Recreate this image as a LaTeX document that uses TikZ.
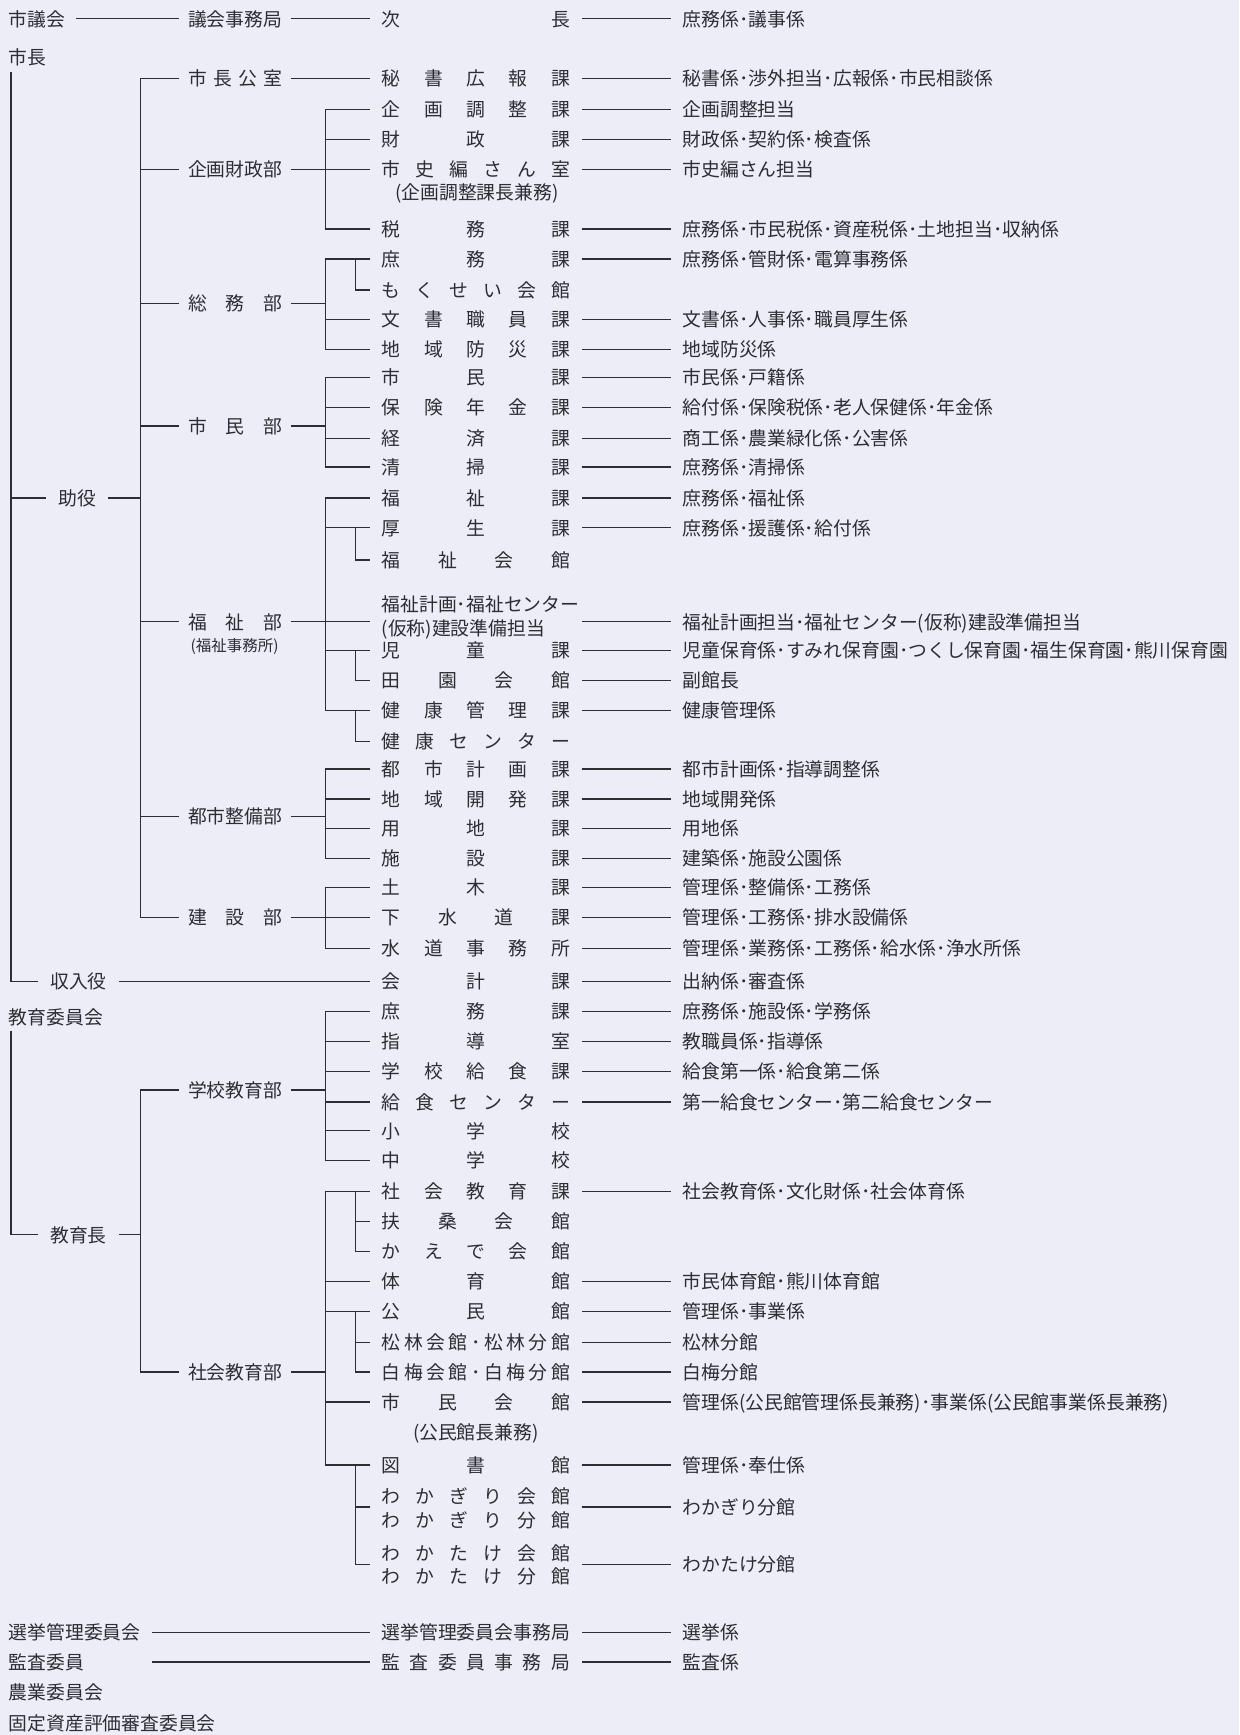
\documentclass[tikz,border=0pt]{standalone}
\usepackage{fontspec}
\setmainfont{Noto Sans CJK JP}
\definecolor{bg}{RGB}{236,237,246}
\definecolor{ink}{RGB}{45,45,52}

\def\hirakiA#1{#1\hirakiB}
\def\hirakiB#1{\ifx\relax#1\else\hfill#1\expandafter\hirakiB\fi}
\newcommand\hiraki[2][170pt]{\makebox[#1][s]{\hirakiA#2\relax}}

\newcommand\kaline[4]{%
  \node[ka] (#1) at (334,#2) {\hiraki{#3}};
  \node[kakari] (#1k) at (606,#2) {#4};
  \draw (#1) -- (#1k);}
\newcommand\kanode[3]{\node[ka] (#1) at (334,#2) {\hiraki{#3}};}
\newcommand\bunki[4]{%
  \draw (#1) -- (#1 -| kbus);
  \draw (#2) -| (#3 -| kbus) -- (#3);
  \foreach \kk in {#4} \draw (\kk -| kbus) -- (\kk);}

\begin{document}
\begin{tikzpicture}[x=1pt,y=-1pt,color=ink,line width=1.1pt,
  every node/.style={inner sep=0pt,text=ink,font=\fontsize{17}{20}\selectfont,
    text height=14.5pt,text depth=1.5pt},
  top/.style={anchor=west,outer xsep=10pt,outer ysep=5pt},
  yaku/.style={outer xsep=11pt},
  bu/.style={anchor=west,outer xsep=8pt},
  ka/.style={anchor=west,outer xsep=11pt},
  kakari/.style={anchor=west,outer xsep=11pt},
  note/.style={}]

\fill[bg] (0,0) rectangle (1120,1568);
\useasboundingbox (0,0) rectangle (1120,1568);

\coordinate (tbus) at (10,0);
\coordinate (bbus) at (127,0);
\coordinate (kbus) at (294,0);
\coordinate (sbus) at (321,0);

% shigikai
\node[top] (gikai) at (-2,17) {市議会};
\node[bu] (gjim) at (162,17) {議会事務局};
\kaline{jicho}{17}{次長}{庶務係･議事係}
\draw (gikai) -- (gjim);
\draw (gjim) -- (jicho);

% shicho
\node[top] (shicho) at (-2,52) {市長};
\node[yaku] (joyaku) at (70,450) {助役};
\node[yaku] (shunyu) at (71,887) {収入役};
\draw (shicho.south -| tbus) |- (shunyu);
\draw (joyaku -| tbus) -- (joyaku);

\node[bu] (koshitsu) at (162,71) {\hiraki[85pt]{市長公室}};
\node[bu] (kikakubu) at (162,153) {企画財政部};
\node[bu] (somubu) at (162,274) {\hiraki[85pt]{総務部}};
\node[bu] (shiminbu) at (162,385) {\hiraki[85pt]{市民部}};
\node[bu] (fukushibu) at (162,562) {\hiraki[85pt]{福祉部}};
\node[note,font=\fontsize{14}{16}\selectfont] (fjimu) at (212,582) {(福祉事務所)};
\node[bu] (toshibu) at (162,738) {都市整備部};
\node[bu] (kensetsu) at (162,829) {\hiraki[85pt]{建設部}};
\draw (joyaku) -- (joyaku -| bbus);
\draw (koshitsu) -| (kensetsu -| bbus) -- (kensetsu);
\foreach \bb in {kikakubu,somubu,shiminbu,fukushibu,toshibu}
  \draw (\bb -| bbus) -- (\bb);

\kaline{hisho}{71}{秘書広報課}{秘書係･渉外担当･広報係･市民相談係}
\draw (koshitsu) -- (hisho);

\kaline{kikaku}{99}{企画調整課}{企画調整担当}
\kaline{zaisei}{126}{財政課}{財政係･契約係･検査係}
\kaline{shishi}{153}{市史編さん室}{市史編さん担当}
\node[note] (kenmu1) at (431,174) {(企画調整課長兼務)};
\kaline{zeimu}{207}{税務課}{庶務係･市民税係･資産税係･土地担当･収納係}
\bunki{kikakubu}{kikaku}{zeimu}{zaisei,shishi}

\kaline{shomu}{234}{庶務課}{庶務係･管財係･電算事務係}
\kanode{mokusei}{262}{もくせい会館}
\kaline{bunsho}{289}{文書職員課}{文書係･人事係･職員厚生係}
\kaline{bosai}{316}{地域防災課}{地域防災係}
\bunki{somubu}{shomu}{bosai}{bunsho}
\draw (shomu -| sbus) |- (mokusei);

\kaline{shimin}{341}{市民課}{市民係･戸籍係}
\kaline{hoken}{368}{保険年金課}{給付係･保険税係･老人保健係･年金係}
\kaline{keizai}{396}{経済課}{商工係･農業緑化係･公害係}
\kaline{seiso}{422}{清掃課}{庶務係･清掃係}
\bunki{shiminbu}{shimin}{seiso}{hoken,keizai}

\kaline{fukushi}{450}{福祉課}{庶務係･福祉係}
\kaline{kosei}{477}{厚生課}{庶務係･援護係･給付係}
\kanode{fkaikan}{506}{福祉会館}
\node[ka] (fkei1) at (334,546) {福祉計画･福祉センター};
\node[ka] (fkei2) at (334,568) {(仮称)建設準備担当};
\coordinate (fkei) at (334,562);
\node[kakari] (fkeik) at (606,562) {福祉計画担当･福祉センター(仮称)建設準備担当};
\draw (fkei -| fukushi.east) -- (fkeik);
\kaline{jido}{588}{児童課}{児童保育係･すみれ保育園･つくし保育園･福生保育園･熊川保育園}
\kaline{denen}{615}{田園会館}{副館長}
\kaline{kenko}{642}{健康管理課}{健康管理係}
\kanode{kcenter}{670}{健康センター}
\bunki{fukushibu}{fukushi}{kenko}{kosei,fkei,jido}
\draw (kosei -| sbus) |- (fkaikan);
\draw (jido -| sbus) |- (denen);
\draw (kenko -| sbus) |- (kcenter);

\kaline{toshikei}{695}{都市計画課}{都市計画係･指導調整係}
\kaline{chiiki}{722}{地域開発課}{地域開発係}
\kaline{yochi}{749}{用地課}{用地係}
\kaline{shisetsu}{776}{施設課}{建築係･施設公園係}
\bunki{toshibu}{toshikei}{shisetsu}{chiiki,yochi}

\kaline{doboku}{802}{土木課}{管理係･整備係･工務係}
\kaline{gesui}{829}{下水道課}{管理係･工務係･排水設備係}
\kaline{suido}{857}{水道事務所}{管理係･業務係･工務係･給水係･浄水所係}
\bunki{kensetsu}{doboku}{suido}{gesui}

\kaline{kaikei}{887}{会計課}{出納係･審査係}
\draw (shunyu) -- (kaikei);

% kyoiku iinkai
\node[top] (kyoiku) at (-2,919) {教育委員会};
\node[yaku] (kyoikucho) at (71,1116) {教育長};
\draw (kyoiku.south -| tbus) |- (kyoikucho);
\node[bu] (gakko) at (162,985) {学校教育部};
\node[bu] (shakaibu) at (162,1240) {社会教育部};
\draw (kyoikucho) -- (kyoikucho -| bbus);
\draw (gakko) -| (shakaibu -| bbus) -- (shakaibu);

\kaline{eshomu}{914}{庶務課}{庶務係･施設係･学務係}
\kaline{shido}{941}{指導室}{教職員係･指導係}
\kaline{kyushoku}{968}{学校給食課}{給食第一係･給食第二係}
\kaline{kcen}{996}{給食センター}{第一給食センター･第二給食センター}
\kanode{shogaku}{1022}{小学校}
\kanode{chugaku}{1049}{中学校}
\bunki{gakko}{eshomu}{chugaku}{shido,kyushoku,kcen,shogaku}

\kaline{shakai}{1077}{社会教育課}{社会教育係･文化財係･社会体育係}
\kanode{fuso}{1104}{扶桑会館}
\kanode{kaede}{1131}{かえで会館}
\kaline{taiiku}{1158}{体育館}{市民体育館･熊川体育館}
\kaline{kominkan}{1185}{公民館}{管理係･事業係}
\kaline{shorin}{1213}{松林会館･松林分館}{松林分館}
\kaline{hakubai}{1240}{白梅会館･白梅分館}{白梅分館}
\kaline{smkaikan}{1267}{市民会館}{管理係(公民館管理係長兼務)･事業係(公民館事業係長兼務)}
\node[note] (kenmu2) at (430,1294) {(公民館長兼務)};
\kaline{tosho}{1324}{図書館}{管理係･奉仕係}
\kanode{wkgr1}{1352}{わかぎり会館}
\kanode{wkgr2}{1374}{わかぎり分館}
\coordinate (wkgr) at (334,1362);
\node[kakari] (wkgrk) at (606,1362) {わかぎり分館};
\draw (wkgr -| wkgr1.east) -- (wkgrk);
\kanode{wktk1}{1404}{わかたけ会館}
\kanode{wktk2}{1425}{わかたけ分館}
\coordinate (wktk) at (334,1414);
\node[kakari] (wktkk) at (606,1414) {わかたけ分館};
\draw (wktk -| wktk1.east) -- (wktkk);
\bunki{shakaibu}{shakai}{tosho}{taiiku,kominkan,smkaikan}
\draw (shakai -| sbus) |- (kaede);
\draw (fuso -| sbus) -- (fuso);
\draw (kominkan -| sbus) |- (hakubai);
\draw (shorin -| sbus) -- (shorin);
\draw (tosho -| sbus) |- (wktk);
\draw (wkgr -| sbus) -- (wkgr);

% iinkai
\node[top] (senkyo) at (-2,1475) {選挙管理委員会};
\kaline{senkyokyoku}{1475}{選挙管理委員会事務局}{選挙係}
\draw (senkyo) -- (senkyokyoku);
\node[top] (kansa) at (-2,1502) {監査委員};
\kaline{kansakyoku}{1502}{監査委員事務局}{監査係}
\draw (senkyo.east |- kansa) -- (kansakyoku);
\node[top] (nogyo) at (-2,1529) {農業委員会};
\node[top] (kotei) at (-2,1557) {固定資産評価審査委員会};

\end{tikzpicture}
\end{document}
